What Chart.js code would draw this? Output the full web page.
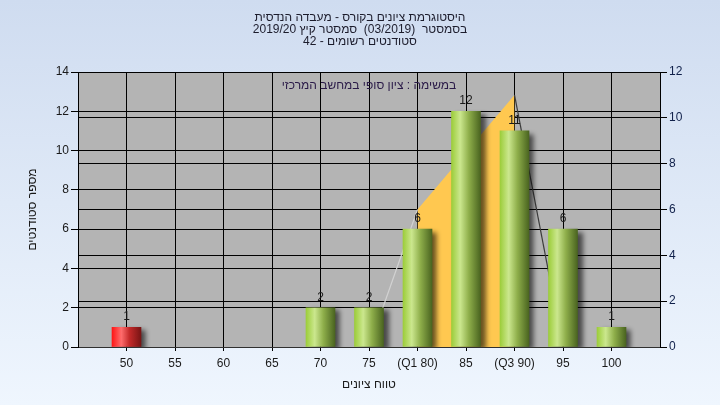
<!DOCTYPE html>
<html>
<head>
<meta charset="utf-8">
<script src="https://cdn.jsdelivr.net/npm/chart.js@4.4.0/dist/chart.umd.min.js"></script>
<style>
html,body{margin:0;padding:0;background:#eef5fd;}
canvas{display:block;direction:rtl;}
</style>
</head>
<body>
<canvas id="c" width="720" height="405" dir="rtl"></canvas>
<script>
// ---- data ----
const gradeBins = [50, 55, 60, 65, 70, 75, 80, 85, 90, 95, 100];
const binLabels = ['50', '55', '60', '65', '70', '75', '(Q1 80)', '85', '(Q3 90)', '95', '100'];
const studentCounts = [1, 0, 0, 0, 2, 2, 6, 12, 11, 6, 1];
const quartileLineX = [75, 80, 90, 95];
const quartileLineY = [0, 6, 11, 0];
const quartileFillX = [80, 90];
const quartileFillY = [6, 11];
const titleLines = ['היסטוגרמת ציונים בקורס - מעבדה הנדסית', 'בסמסטר  (03/2019)  סמסטר קיץ 2019/20', 'סטודנטים רשומים - 42'];
const noteText = 'במשימה : ציון סופי במחשב המרכזי';
const xTitle = 'טווח ציונים';
const yTitle = 'מספר סטודנטים';
const failBelow = 55;

const FONT = "'Liberation Sans', Arial, sans-serif";

function barGradient(ctx) {
  const chart = ctx.chart;
  const xs = chart.scales.x;
  if (!chart.chartArea || !xs || !ctx.raw) return '#9ccc3c';
  const v = ctx.raw.x;
  const px = xs.getPixelForValue(v);
  const g = chart.ctx.createLinearGradient(px - 14.5, 0, px + 14.5, 0);
  if (v < failBelow) {
    g.addColorStop(0, '#ff1616');
    g.addColorStop(0.32, '#ff6c6c');
    g.addColorStop(0.6, '#c42a2a');
    g.addColorStop(1, '#781414');
  } else {
    g.addColorStop(0, '#9ccd3a');
    g.addColorStop(0.3, '#cbe78e');
    g.addColorStop(0.6, '#8eae4a');
    g.addColorStop(1, '#4a6420');
  }
  return g;
}

const barPoints = gradeBins
  .map((g, i) => ({x: g, y: studentCounts[i]}))
  .filter(p => p.y > 0);

const bgPlugin = {
  id: 'bg',
  beforeDraw(chart) {
    const {ctx, width, height, chartArea: a} = chart;
    ctx.save();
    const g = ctx.createLinearGradient(0, 0, 0, height);
    g.addColorStop(0, '#cfdcf0');
    g.addColorStop(1, '#eff6fe');
    ctx.fillStyle = g;
    ctx.fillRect(0, 0, width, height);
    ctx.fillStyle = '#b4b4b4';
    ctx.fillRect(a.left, a.top, a.right - a.left, a.bottom - a.top);
    ctx.restore();
  },
  beforeDatasetDraw(chart, args) {
    if (args.meta.type === 'bar') {
      const ctx = chart.ctx;
      ctx.save();
      ctx.shadowColor = 'rgba(0,0,0,0.6)';
      ctx.shadowOffsetX = 5;
      ctx.shadowOffsetY = 3;
      ctx.shadowBlur = 5;
    }
  },
  afterDatasetDraw(chart, args) {
    if (args.meta.type === 'bar') chart.ctx.restore();
  },
  afterDatasetsDraw(chart) {
    const ctx = chart.ctx;
    ctx.save();
    ctx.direction = 'rtl';
    ctx.font = '12px ' + FONT;
    ctx.fillStyle = '#1a1a1a';
    ctx.textAlign = 'center';
    ctx.textBaseline = 'alphabetic';
    const meta = chart.getDatasetMeta(0);
    meta.data.forEach((bar, i) => {
      ctx.fillText(String(barPoints[i].y), bar.x, bar.y - 7);
    });
    ctx.fillStyle = '#2a1a48';
    ctx.textBaseline = 'middle';
    ctx.fillText(noteText, 369, 86);
    ctx.restore();
  }
};

new Chart(document.getElementById('c'), {
  type: 'bar',
  data: {
    datasets: [
      {
        type: 'bar',
        data: barPoints,
        yAxisID: 'y',
        backgroundColor: barGradient,
        borderWidth: 0,
        barThickness: 29,
        order: 0
      },
      {
        type: 'line',
        data: quartileLineX.map((x, i) => ({x, y: quartileLineY[i]})),
        yAxisID: 'y2',
        borderWidth: 1.2,
        pointRadius: 0,
        fill: false,
        tension: 0,
        segment: {
          borderColor: c => ['#d2d2d2', 'rgba(0,0,0,0)', '#3c3c3c'][c.p0DataIndex]
        },
        order: 1
      },
      {
        type: 'line',
        data: quartileFillX.map((x, i) => ({x, y: quartileFillY[i]})),
        yAxisID: 'y2',
        borderWidth: 0,
        borderColor: 'rgba(0,0,0,0)',
        backgroundColor: '#ffc850',
        pointRadius: 0,
        fill: 'origin',
        tension: 0,
        order: 2
      }
    ]
  },
  options: {
    responsive: false,
    animation: false,
    devicePixelRatio: 1,
    layout: {padding: 0},
    plugins: {
      legend: {display: false},
      tooltip: {enabled: false},
      title: {
        display: true,
        text: titleLines,
        color: '#1c1c2c',
        font: {family: FONT, size: 12, weight: 'normal', lineHeight: 1.0},
        padding: {top: 12, bottom: 24}
      }
    },
    scales: {
      x: {
        type: 'linear',
        min: 45,
        max: 105,
        offset: false,
        afterFit: s => { s.height = 58; },
        afterBuildTicks: s => { s.ticks = gradeBins.map(v => ({value: v})); },
        ticks: {
          autoSkip: false,
          maxRotation: 0,
          padding: 5,
          color: '#1a1a1a',
          font: {family: FONT, size: 12},
          callback: v => binLabels[gradeBins.indexOf(v)]
        },
        grid: {color: '#000', lineWidth: 1, tickLength: 4, offset: false},
        border: {color: '#303030'},
        title: {
          display: true, text: xTitle, color: '#1a1a1a',
          font: {family: FONT, size: 12, lineHeight: 1.0},
          padding: {top: 0, bottom: 14}
        }
      },
      y: {
        position: 'left',
        min: 0,
        max: 14,
        afterFit: s => { s.width = 78; },
        ticks: {stepSize: 2, padding: 2, color: '#1a1a1a', font: {family: FONT, size: 12}},
        grid: {color: '#000', lineWidth: 1, tickLength: 7},
        border: {color: '#000'},
        title: {
          display: true, text: yTitle, color: '#1a1a1a',
          font: {family: FONT, size: 12, lineHeight: 1.0},
          padding: {top: 27, bottom: 0}
        }
      },
      y2: {
        position: 'right',
        min: 0,
        max: 12,
        afterFit: s => { s.width = 60; },
        ticks: {stepSize: 2, padding: 2, color: '#10204a', font: {family: FONT, size: 12}},
        grid: {color: '#000', lineWidth: 1, tickLength: 7, drawOnChartArea: true},
        border: {color: '#000'}
      }
    }
  },
  plugins: [bgPlugin]
});
</script>
</body>
</html>
